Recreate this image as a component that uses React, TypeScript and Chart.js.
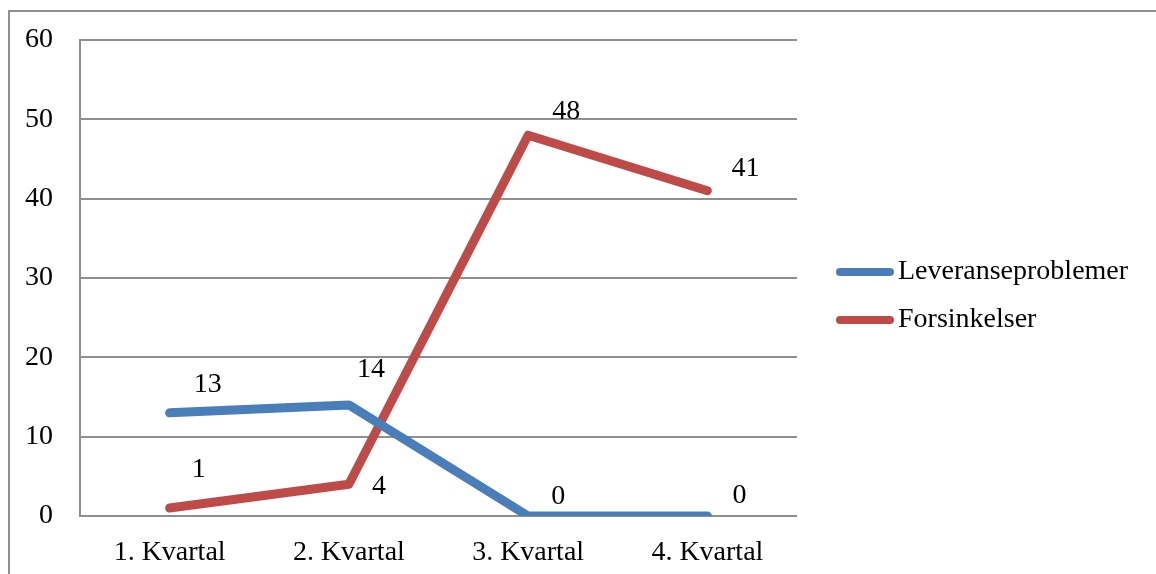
import React, { useEffect, useRef } from "react";
import { Chart, registerables } from "chart.js";

Chart.register(...registerables);

const categories = ["1. Kvartal", "2. Kvartal", "3. Kvartal", "4. Kvartal"];
const leveranseproblemer = [13, 14, 0, 0];
const forsinkelser = [1, 4, 48, 41];
const seriesNames = ["Leveranseproblemer", "Forsinkelser"];
const yTicks = { min: 0, max: 60, step: 10 };

// label offsets relative to each point (style only)
const labelOffsets = [
  [[24, -28], [8, -35], [23, -19], [25, -20]],
  [[22, -38], [23, 2], [24, -24], [24, -22]],
];

const FONT = "Liberation Serif";
const FSIZE = 28;
const BLUE = "#4A7EBB";
const RED = "#BE4B48";
const GRID = "#8f8f8f";

export default function App() {
  const ref = useRef<HTMLCanvasElement | null>(null);
  useEffect(() => {
    if (!ref.current) return;
    const framePlugin = {
      id: "frame",
      beforeDraw(chart: any) {
        const ctx = chart.ctx;
        ctx.save();
        ctx.fillStyle = "#ffffff";
        ctx.fillRect(0, 0, chart.width, chart.height);
        ctx.strokeStyle = GRID;
        ctx.lineWidth = 2;
        ctx.beginPath();
        ctx.moveTo(9, chart.height + 5);
        ctx.lineTo(9, 11);
        ctx.lineTo(chart.width + 5, 11);
        ctx.stroke();
        ctx.restore();
      },
    };
    const labelPlugin = {
      id: "valueLabels",
      afterDatasetsDraw(chart: any) {
        const ctx = chart.ctx;
        ctx.save();
        ctx.font = `${FSIZE}px "${FONT}"`;
        ctx.fillStyle = "#000";
        ctx.textAlign = "left";
        ctx.textBaseline = "middle";
        chart.data.datasets.forEach((ds: any, di: number) => {
          const meta = chart.getDatasetMeta(di);
          meta.data.forEach((pt: any, i: number) => {
            const off = labelOffsets[di][i];
            ctx.fillText(String(ds.data[i]), pt.x + off[0], pt.y + off[1]);
          });
        });
        ctx.restore();
      },
    };
    const legendPlugin = {
      id: "customLegend",
      afterDraw(chart: any) {
        const ctx = chart.ctx;
        ctx.save();
        const x0 = chart.chartArea.right + 43;
        const rows = [272, 320];
        chart.data.datasets.forEach((ds: any, i: number) => {
          const y = rows[i];
          ctx.strokeStyle = ds.borderColor;
          ctx.lineWidth = 8;
          ctx.lineCap = "round";
          ctx.beginPath();
          ctx.moveTo(x0, y);
          ctx.lineTo(x0 + 50, y);
          ctx.stroke();
          ctx.font = `${FSIZE}px "${FONT}"`;
          ctx.fillStyle = "#000";
          ctx.textAlign = "left";
          ctx.textBaseline = "middle";
          ctx.fillText(ds.label, x0 + 58, y);
        });
        ctx.restore();
      },
    };
    const chart = new Chart(ref.current, {
      type: "line",
      data: {
        labels: categories,
        datasets: [
          {
            label: seriesNames[0],
            data: leveranseproblemer,
            borderColor: BLUE,
            backgroundColor: BLUE,
            borderWidth: 9,
            borderCapStyle: "round",
            borderJoinStyle: "round",
            pointRadius: 0,
            tension: 0,
          },
          {
            label: seriesNames[1],
            data: forsinkelser,
            borderColor: RED,
            backgroundColor: RED,
            borderWidth: 9,
            borderCapStyle: "round",
            borderJoinStyle: "round",
            pointRadius: 0,
            tension: 0,
          },
        ],
      },
      options: {
        responsive: false,
        animation: false,
        devicePixelRatio: 1,
        layout: { padding: { left: 0, top: 40, right: 359, bottom: 0 } },
        plugins: {
          legend: { display: false },
          tooltip: { enabled: false },
        },
        scales: {
          x: {
            offset: true,
            grid: { display: false, drawTicks: false },
            border: { display: false },
            ticks: {
              color: "#000",
              font: { family: FONT, size: FSIZE },
              padding: 20,
              maxRotation: 0,
            },
            afterFit(scale: any) {
              scale.height = 58;
            },
          },
          y: {
            min: yTicks.min,
            max: yTicks.max,
            grid: { color: GRID, lineWidth: 2, drawTicks: false },
            border: { display: true, color: GRID, width: 2 },
            ticks: {
              stepSize: yTicks.step,
              color: "#000",
              font: { family: FONT, size: FSIZE },
              padding: 27,
            },
            afterFit(scale: any) {
              scale.width = 80;
              scale.paddingTop = 0;
              scale.paddingBottom = 0;
            },
          },
        },
      },
      plugins: [framePlugin, labelPlugin, legendPlugin],
    } as any);
    return () => chart.destroy();
  }, []);
  return (
    <div style={{ position: "fixed", left: 0, top: 0, width: 1156, height: 574, background: "#fff" }}>
      <canvas ref={ref} width={1156} height={574} style={{ display: "block" }} />
    </div>
  );
}
